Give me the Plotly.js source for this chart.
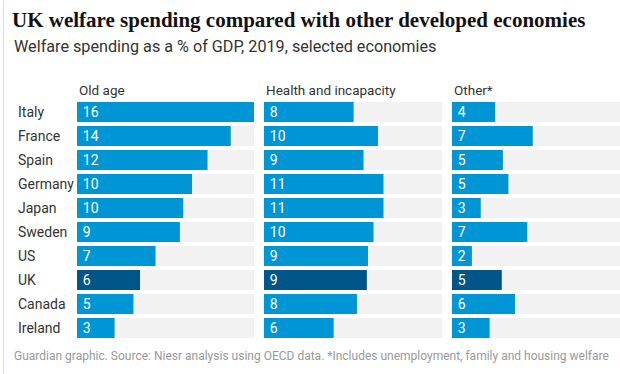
<!DOCTYPE html>
<html>
<head>
<meta charset="utf-8">
<script src="https://cdn.plot.ly/plotly-3.0.1.min.js"></script>
<style>html,body{margin:0;padding:0;background:#fff;}#chart{width:620px;height:374px;}</style>
</head>
<body>
<div id="chart"></div>
<script>
const countries = ['Italy','France','Spain','Germany','Japan','Sweden','US','UK','Canada','Ireland'];
const oldAge = [16.0, 13.9, 11.8, 10.4, 9.6, 9.3, 7.1, 5.7, 5.1, 3.4];
const oldAgeLabels = ['16','14','12','10','10','9','7','6','5','3'];
const health = [8.1, 10.3, 9.0, 10.8, 10.8, 9.9, 9.4, 9.3, 8.4, 6.3];
const healthLabels = ['8','10','9','11','11','10','9','9','8','6'];
const other = [3.9, 7.3, 4.6, 5.1, 2.6, 6.8, 1.8, 4.5, 5.7, 3.4];
const otherLabels = ['4','7','5','5','3','7','2','5','6','3'];
const panelTitles = ['Old age','Health and incapacity','Other*'];
const highlight = 'UK';

const W = 620, H = 374;
const plotTop = 100, plotBottom = 340;
const pxPerUnit = 177 / 16;
const panelPx = [[77, 254], [264, 442], [452, 620]];
const sans = 'Roboto, Arial, sans-serif';
const barColor = '#0096d6', ukColor = '#005689', trackColor = '#f2f2f2';

const series = [oldAge, health, other];
const labels = [oldAgeLabels, healthLabels, otherLabels];
const axNames = ['x', 'x2', 'x3'];
const traces = [];
const layout = {
  width: W, height: H,
  margin: {l: 0, r: 0, t: plotTop, b: H - plotBottom, pad: 0},
  paper_bgcolor: '#fff', plot_bgcolor: '#fff',
  barmode: 'overlay', bargap: 4/24,
  showlegend: false, hovermode: false,
  font: {family: sans, color: '#333'},
  title: {text: 'UK welfare spending compared with other developed economies',
    font: {family: 'Liberation Serif, serif', size: 21, color: '#121212', weight: 'bold'},
    xref: 'paper', x: 12 / W, xanchor: 'left', yref: 'container', y: 1 - 20 / H, yanchor: 'middle'},
  yaxis: {type: 'category', categoryorder: 'array', categoryarray: countries,
    range: [countries.length - 0.5, -0.5], showticklabels: false, showgrid: false, zeroline: false,
    domain: [0, 1], fixedrange: true},
  annotations: [], shapes: []
};
const py2paper = py => (plotBottom - py) / (plotBottom - plotTop);

for (let i = 0; i < 3; i++) {
  const [a, b] = panelPx[i];
  const maxV = (b - a) / pxPerUnit;
  const key = i === 0 ? 'xaxis' : 'xaxis' + (i + 1);
  layout[key] = {domain: [a / W, b / W], range: [0, maxV], visible: false, fixedrange: true};
  traces.push({type: 'bar', orientation: 'h', y: countries, x: countries.map(() => maxV),
    xaxis: axNames[i], yaxis: 'y', marker: {color: trackColor}, hoverinfo: 'skip'});
  traces.push({type: 'bar', orientation: 'h', y: countries, x: series[i],
    xaxis: axNames[i], yaxis: 'y',
    marker: {color: countries.map(c => c === highlight ? ukColor : barColor)},
    text: labels[i], texttemplate: '\u2009%{text}', textposition: 'inside', insidetextanchor: 'start',
    constraintext: 'none', textangle: 0,
    textfont: {family: sans, size: 14, color: '#fff'}, cliponaxis: false});
  layout.annotations.push({text: panelTitles[i], xref: 'paper', yref: 'paper',
    x: a / W, y: py2paper(90), xanchor: 'left', yanchor: 'middle', showarrow: false,
    font: {family: sans, size: 13.5, color: '#333'}});
}
countries.forEach(c => layout.annotations.push({text: c, xref: 'paper', yref: 'y', x: 16 / W, y: c,
  xanchor: 'left', yanchor: 'middle', showarrow: false, font: {family: sans, size: 14, color: '#333'}}));
layout.annotations.push({text: 'Welfare spending as a % of GDP, 2019, selected economies', xref: 'paper', yref: 'paper',
  x: 12 / W, y: py2paper(47), xanchor: 'left', yanchor: 'middle', showarrow: false,
  font: {family: sans, size: 16.2, color: '#333'}});
layout.annotations.push({text: 'Guardian graphic. Source: Niesr analysis using OECD data. *Includes unemployment, family and housing welfare',
  xref: 'paper', yref: 'paper', x: 12 / W, y: py2paper(356), xanchor: 'left', yanchor: 'middle', showarrow: false,
  font: {family: sans, size: 12, color: '#999'}});
layout.shapes.push({type: 'line', xref: 'paper', yref: 'paper', x0: 3.5 / W, x1: 3.5 / W,
  y0: py2paper(H), y1: py2paper(0), line: {color: '#dcdcdc', width: 1}});

Plotly.newPlot('chart', traces, layout, {displayModeBar: false, staticPlot: true});
</script>
</body>
</html>
